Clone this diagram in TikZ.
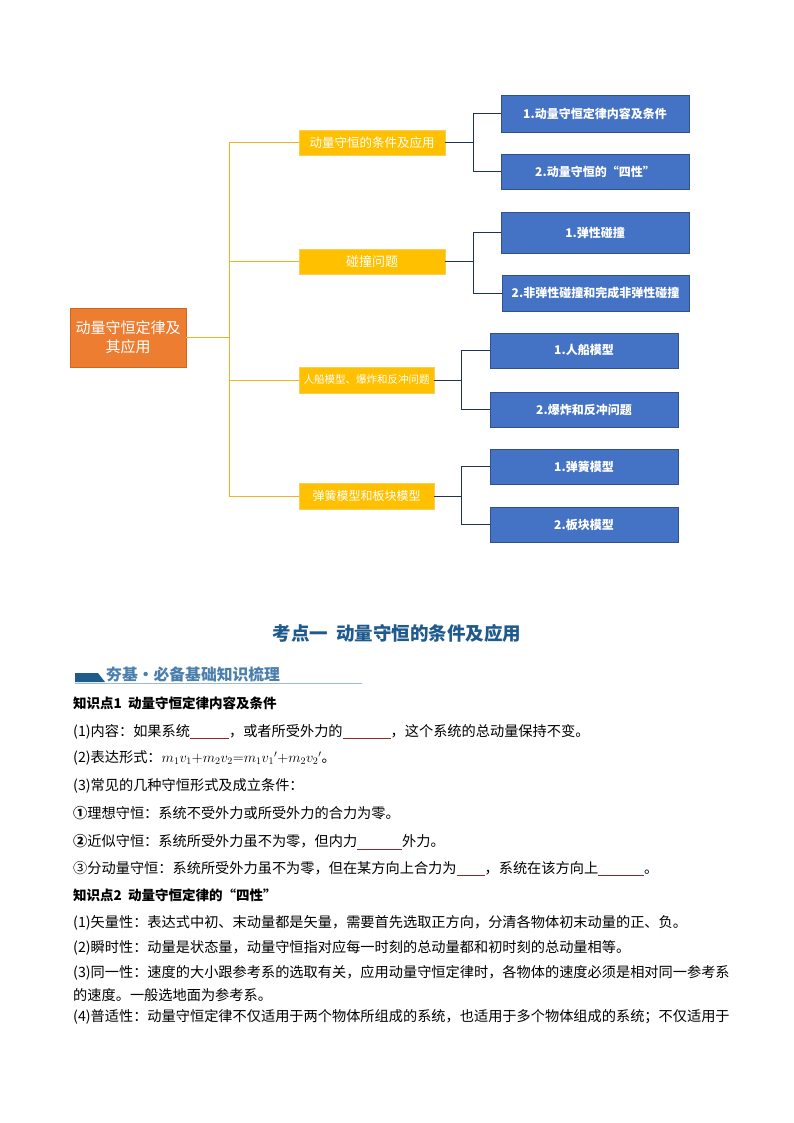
\documentclass[tikz,border=0pt]{standalone}
\usepackage{fontspec}
\setmainfont{Noto Sans CJK SC}
\usetikzlibrary{positioning}

\definecolor{rootorange}{HTML}{ED7D31}
\definecolor{rootedge}{HTML}{D0671F}
\definecolor{topicyellow}{HTML}{FFC000}
\definecolor{topicedge}{HTML}{F5CF5A}
\definecolor{itemblue}{HTML}{4472C4}
\definecolor{itemedge}{HTML}{2F528F}
\definecolor{goldline}{HTML}{F0B323}
\definecolor{navyline}{HTML}{1F3354}
\definecolor{titleblue}{HTML}{1F5A8E}
\definecolor{bannerblue}{HTML}{1D5C8C}
\definecolor{bannertext}{HTML}{4A7FAD}
\definecolor{bannerrule}{HTML}{9DB9D3}
\definecolor{blankred}{HTML}{8E2A2A}

\newcommand{\fillblank}[1]{\textcolor{blankred}{\rule[-2.5pt]{#1pt}{0.8pt}}}

\begin{document}
\begin{tikzpicture}[x=1pt, y=-1pt,
    rootbox/.style={draw=rootedge, fill=rootorange, text=white, align=center,
        minimum width=116pt, minimum height=59pt, inner sep=0pt,
        font=\fontsize{15}{19}\selectfont},
    topicbox/.style={draw=topicedge, fill=topicyellow, text=white,
        minimum height=25pt, inner sep=0pt},
    itembox/.style={draw=itemedge, fill=itemblue, text=white,
        minimum width=188pt, minimum height=36pt, inner sep=0pt,
        font=\fontsize{12}{14}\selectfont\bfseries},
    goldlink/.style={draw=goldline, line width=1pt},
    navylink/.style={draw=navyline, line width=1pt},
    bodyline/.style={anchor=west, inner sep=0pt, font=\fontsize{14.2}{17}\selectfont},
    headline/.style={bodyline, font=\fontsize{13.5}{17}\selectfont\bfseries}]
    \useasboundingbox[fill=white] (0,0) rectangle (794,1123);

    % mind map
    \node[rootbox] (root) at (128,337.5) {动量守恒定律及\\其应用};

    \node[topicbox, minimum width=146pt, font=\fontsize{12.5}{14}\selectfont] (t1) at (372,142.5) {动量守恒的条件及应用};
    \node[topicbox, minimum width=146pt, font=\fontsize{13}{14}\selectfont] (t2) at (372,261.5) {碰撞问题};
    \node[topicbox, minimum width=135pt, minimum height=26pt, font=\fontsize{10.5}{12}\selectfont] (t3) at (366.5,380) {人船模型、爆炸和反冲问题};
    \node[topicbox, minimum width=135pt, minimum height=26pt, font=\fontsize{12}{14}\selectfont] (t4) at (366.5,496) {弹簧模型和板块模型};

    \node[itembox, minimum height=37pt] (i11) at (595,113.5) {1.动量守恒定律内容及条件};
    \node[itembox, minimum height=35pt] (i12) at (595,171.5) {2.动量守恒的“四性”};
    \node[itembox, minimum height=41pt] (i21) at (595,232.5) {1.弹性碰撞};
    \node[itembox, minimum width=187pt] (i22) at (595.5,293) {2.非弹性碰撞和完成非弹性碰撞};
    \node[itembox, minimum height=35pt] (i31) at (584,350.5) {1.人船模型};
    \node[itembox, minimum height=35pt] (i32) at (584,409.5) {2.爆炸和反冲问题};
    \node[itembox, minimum height=35pt] (i41) at (584,466.5) {1.弹簧模型};
    \node[itembox, minimum height=35pt] (i42) at (584,524.5) {2.板块模型};

    \coordinate (trunk) at (229,0);
    \coordinate (fork1) at (473,0);
    \coordinate (fork2) at (461,0);

    \draw[goldlink] (root.east) -- (root.east -| trunk);
    \draw[goldlink] (t1.west -| trunk) -- (t4.west -| trunk);
    \foreach \t in {t1,t2,t3,t4}
        \draw[goldlink] (\t.west -| trunk) -- (\t.west);

    \draw[navylink] (t1.east) -- (t1.east -| fork1);
    \draw[navylink] (i11.west) -| (fork1 |- i12.west) -- (i12.west);
    \draw[navylink] (t2.east) -- (t2.east -| fork1);
    \draw[navylink] (i21.west) -| (fork1 |- i22.west) -- (i22.west);
    \draw[navylink] (t3.east) -- (t3.east -| fork2);
    \draw[navylink] (i31.west) -| (fork2 |- i32.west) -- (i32.west);
    \draw[navylink] (t4.east) -- (t4.east -| fork2);
    \draw[navylink] (i41.west) -| (fork2 |- i42.west) -- (i42.west);

    % section heading
    \node[text=titleblue, font=\fontsize{18.5}{21}\selectfont\bfseries] (title) at (397,633) {考点一\ \ 动量守恒的条件及应用};

    \fill[bannerblue] (75,673) -- (98,673) -- (105,682) -- (75,682) -- cycle;
    \draw[bannerrule, line width=0.8pt] (75,683) -- (362,683);
    \node[anchor=west, inner sep=0pt, text=bannertext, font=\fontsize{15.8}{18}\selectfont\bfseries] (banner) at (106,674) {夯基·必备基础知识梳理};

    % body text
    \node[headline] (k1) at (73,703) {知识点1\ \ 动量守恒定律内容及条件};
    \node[bodyline] (l1) at (73,732) {(1)内容：如果系统\fillblank{39}，或者所受外力的\fillblank{48}，这个系统的总动量保持不变。};
    \node[bodyline] (l2) at (73,758) {(2)表达形式：$m_1v_1{+}m_2v_2{=}m_1v_1{}'{+}m_2v_2{}'$。};
    \node[bodyline] (l3) at (73,786) {(3)常见的几种守恒形式及成立条件：};
    \node[bodyline] (l4) at (73,813) {{\bfseries ①}理想守恒：系统不受外力或所受外力的合力为零。};
    \node[bodyline] (l5) at (73,842) {{\bfseries ②}近似守恒：系统所受外力虽不为零，但内力\fillblank{45}外力。};
    \node[bodyline] (l6) at (73,869) {③分动量守恒：系统所受外力虽不为零，但在某方向上合力为\fillblank{28}，系统在该方向上\fillblank{46}。};

    \node[headline] (k2) at (73,895) {知识点2\ \ 动量守恒定律的“四性”};
    \node[bodyline] (m1) at (73,923) {(1)矢量性：表达式中初、末动量都是矢量，需要首先选取正方向，分清各物体初末动量的正、负。};
    \node[bodyline] (m2) at (73,948) {(2)瞬时性：动量是状态量，动量守恒指对应每一时刻的总动量都和初时刻的总动量相等。};
    \node[bodyline] (m3) at (73,973) {(3)同一性：速度的大小跟参考系的选取有关，应用动量守恒定律时，各物体的速度必须是相对同一参考系};
    \node[bodyline] (m4) at (73,995) {的速度。一般选地面为参考系。};
    \node[bodyline] (m5) at (73,1017) {(4)普适性：动量守恒定律不仅适用于两个物体所组成的系统，也适用于多个物体组成的系统；不仅适用于};
\end{tikzpicture}
\end{document}
